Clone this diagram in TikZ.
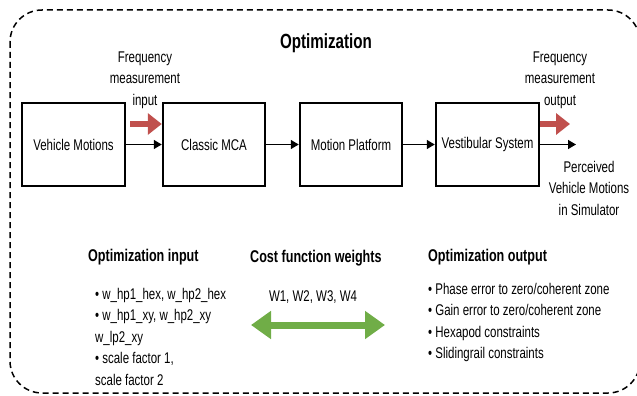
\documentclass[tikz,border=0pt]{standalone}
\usepackage{fontspec}
\setmainfont{Liberation Sans}[FakeStretch=0.74]
\usetikzlibrary{arrows.meta}
\definecolor{redarrow}{RGB}{192,80,77}
\definecolor{greenarrow}{RGB}{112,173,71}
\newcommand{\txtfont}{\fontsize{15.5}{21.5}\selectfont}
\newcommand{\headfont}{\fontsize{17}{21}\selectfont\bfseries}
\tikzset{
  blockbox/.style={draw, line width=2.5pt, minimum width=103pt, minimum height=83pt, inner sep=2pt, font=\txtfont},
  blk/.style={-{Triangle[length=8pt,width=9pt]}, line width=1.5pt},
  redarr/.style={-{Triangle[length=14pt,width=21pt]}, line width=6pt, draw=redarrow},
  greenarr/.style={{Triangle[length=20pt,width=27pt]}-{Triangle[length=20pt,width=27pt]}, line width=7pt, draw=greenarrow},
  label/.style={font=\txtfont, align=center, inner sep=0pt},
  heading/.style={font=\headfont, inner sep=0pt, anchor=west},
  listtext/.style={font=\txtfont, align=left, inner sep=0pt, anchor=north west},
  border/.style={draw, line width=1.5pt, dash pattern=on 6pt off 4pt, rounded corners=32pt}
}
\begin{document}
\begin{tikzpicture}[x=1pt,y=-1pt]
\useasboundingbox (0,0) rectangle (637,396);
\draw[border] (10,10) rectangle (640,393);

\node[font=\fontsize{20.5}{24}\selectfont\bfseries, inner sep=0pt] (title) at (326,43) {Optimization};

\node[blockbox] (vm) at (73.5,144.5) {Vehicle Motions};
\node[blockbox, minimum width=102pt] (mca) at (214,144.5) {Classic MCA};
\node[blockbox, minimum width=102pt] (mp) at (351,144.5) {Motion Platform};
\node[blockbox] (vs) at (487.5,144.5) {Vestibular System};

\draw[blk] (vm) -- (mca);
\draw[blk] (mca) -- (mp);
\draw[blk] (mp) -- (vs);
\coordinate (out) at (576,144.5);
\draw[blk] (vs.east) -- (out);

\coordinate (rin) at (130,124);
\draw[redarr] (rin) -- (mca.west |- rin);
\coordinate (rout) at (570,124);
\draw[redarr] (vs.east |- rout) -- (rout);

\node[label] (fin) at (145,80) {Frequency\\measurement\\input};
\node[label] (fout) at (560,80) {Frequency\\measurement\\output};
\node[label] (perc) at (589,188) {Perceived\\Vehicle Motions\\in Simulator};

\node[heading] (oin) at (88,257) {Optimization input};
\node[heading] (cfw) at (250,258) {Cost function weights};
\node[heading] (oout) at (428,257) {Optimization output};

\node[label] (wts) at (313,297) {W1, W2, W3, W4};
\coordinate (gl) at (251,325);
\coordinate (gr) at (385,325);
\draw[greenarr] (gl) -- (gr);

\node[listtext] (inlist) at (95,288) {\textbullet\ w\_hp1\_hex, w\_hp2\_hex\\\textbullet\ w\_hp1\_xy, w\_hp2\_xy\\w\_lp2\_xy\\\textbullet\ scale factor 1,\\scale factor 2};
\node[listtext] (outlist) at (428,283) {\textbullet\ Phase error to zero/coherent zone\\\textbullet\ Gain error to zero/coherent zone\\\textbullet\ Hexapod constraints\\\textbullet\ Slidingrail constraints};
\end{tikzpicture}
\end{document}
